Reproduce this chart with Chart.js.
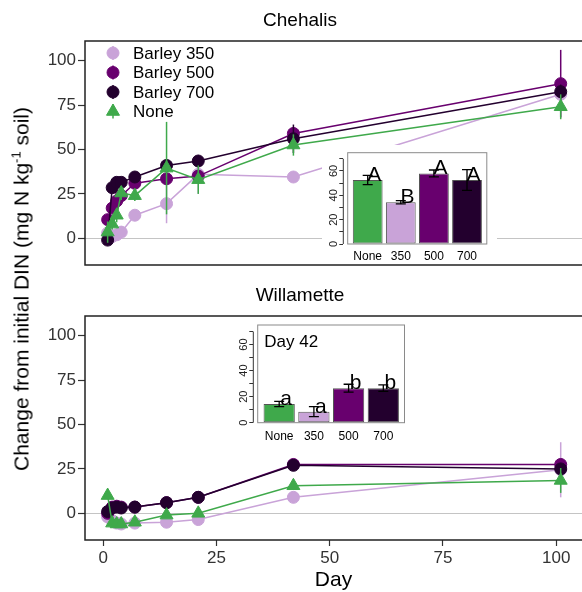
<!DOCTYPE html>
<html>
<head>
<meta charset="utf-8">
<script src="https://cdn.jsdelivr.net/npm/chart.js@4/dist/chart.umd.min.js"></script>
<style>
  body { margin: 0; background: #fff; font-family: "Liberation Sans", Arial, sans-serif; }
  #wrap { position: relative; width: 582px; height: 592px; overflow: hidden; }
  canvas { position: absolute; }
  .inset { background: #fff; }
  #ytitle {
    position: absolute; left: 23px; top: 289px;
    transform: translate(-50%, -50%) rotate(-90deg);
    white-space: nowrap; font-size: 21px; line-height: 24px; color: #000;
  }
  #ytitle span { font-size: 13px; position: relative; top: -8px; }
</style>
</head>
<body>
<div id="wrap">
  <canvas id="chehalis" width="582" height="272" style="left:0;top:0"></canvas>
  <canvas id="willamette" width="582" height="320" style="left:0;top:272px"></canvas>
  <canvas id="insetTop" class="inset" width="175" height="119" style="left:322px;top:145px"></canvas>
  <canvas id="insetBottom" class="inset" width="182" height="126" style="left:230px;top:318px"></canvas>
  <div id="ytitle">Change from initial DIN (mg N kg<span>-1</span> soil)</div>
</div>
<script>
const FONT = '"Liberation Sans", Arial, Helvetica, sans-serif';
Chart.defaults.font.family = FONT;
Chart.defaults.color = '#333';

// sampling days and series
const days = [1, 2, 3, 4, 7, 14, 21, 42, 101];
const seriesNames = ['Barley 350', 'Barley 500', 'Barley 700', 'None'];
const seriesColors = ['#c9a3d8', '#68006e', '#23002e', '#3fa94b'];
const seriesShapes = ['circle', 'circle', 'circle', 'triangle'];
const seriesSizes = [6, 6, 6, 7.5];
const xTicks = [0, 25, 50, 75, 100];
const yTicks = [0, 25, 50, 75, 100];

// Chehalis (mean and +/- error)
const chehalis350 = [3, 1, 2, 3.5, 13, 19.5, 36, 34.5, 81];
const chehalis500 = [10.5, 17, 21, 24, 31, 33.5, 35, 59, 87];
const chehalis700 = [-1, 28.5, 31.5, 31.5, 34.5, 41, 43.5, 56, 82.5];
const chehalisNone = [3.5, 8, 13, 25.5, 24, 39.5, 33, 52.5, 74];
const chehalis350Err = [1.5, 1, 1, 1.5, 2, 11, 11, 2, 5];
const chehalis500Err = [2, 2, 2, 2, 2, 2, 3, 3, 19];
const chehalis700Err = [2, 2, 2, 2, 2, 2, 3, 8, 4];
const chehalisNoneErr = [6, 3, 4, 4, 3, 26, 8, 6, 7];

// Willamette
const willamette350 = [-2, -4, -5.5, -6, -5.5, -5, -3.5, 9, 24.5];
const willamette500 = [0, 3.5, 4, 3.5, 3.5, 6, 9, 27.5, 27.5];
const willamette700 = [1, 3, 3.5, 3, 3.5, 6, 9, 27, 25];
const willametteNone = [10, -5.5, -6, -6, -5, -1, 0, 15.5, 18.5];
const willamette350Err = [1, 1, 1, 1, 1, 1, 1, 2, 15.5];
const willamette500Err = [1, 1, 1, 1, 1, 1, 1, 2, 3];
const willamette700Err = [1, 1, 1, 1, 1, 1, 1, 2, 2];
const willametteNoneErr = [2, 1, 1, 1, 1, 1, 1, 1, 7];

// day 42 insets
const insetGroups = ['None', '350', '500', '700'];
const insetColors = ['#3fa94b', '#c9a3d8', '#68006e', '#23002e'];
const insetTicks = [0, 10, 20, 30, 40, 50, 60, 70];
const chehalisDay42 = [52.6, 34.3, 58, 52.6];
const chehalisDay42Err = [3.8, 1.4, 2.8, 8.5];
const chehalisLetters = ['A', 'B', 'A', 'A'];
const willametteDay42 = [14.4, 8.5, 26.5, 26.5];
const willametteDay42Err = [2, 3.9, 3, 2.5];
const willametteLetters = ['a', 'a', 'b', 'b'];

// keep chart.js from padding the plot for edge labels
function noPad(s) {
  s.paddingLeft = 0; s.paddingRight = 0; s.paddingTop = 0; s.paddingBottom = 0;
}

// vertical error bar under each series' points
const pointErrors = {
  id: 'pointErrors',
  beforeDatasetDraw(chart, args) {
    const ds = chart.data.datasets[args.index];
    if (!ds.err) return;
    const { ctx, scales: { x, y } } = chart;
    ctx.save();
    ctx.strokeStyle = ds.borderColor;
    ctx.lineWidth = 1.5;
    ds.data.forEach((p, j) => {
      const e = ds.err[j];
      const px = x.getPixelForValue(p.x);
      ctx.beginPath();
      ctx.moveTo(px, y.getPixelForValue(p.y - e));
      ctx.lineTo(px, y.getPixelForValue(p.y + e));
      ctx.stroke();
    });
    ctx.restore();
  }
};

const panelFrame = {
  id: 'panelFrame',
  beforeDatasetsDraw(chart) {
    const { ctx, chartArea: a } = chart;
    ctx.save();
    ctx.strokeStyle = '#222';
    ctx.lineWidth = 1.5;
    ctx.beginPath();
    ctx.moveTo(a.right, a.top);
    ctx.lineTo(a.left, a.top);
    ctx.lineTo(a.left, a.bottom);
    ctx.lineTo(a.right, a.bottom);
    ctx.stroke();
    ctx.restore();
  }
};

const keyLegend = {
  id: 'keyLegend',
  afterDatasetsDraw(chart) {
    const { ctx, chartArea: a } = chart;
    ctx.save();
    seriesNames.forEach((name, i) => {
      const cx = a.left + 28, cy = a.top + 12 + i * 19.5;
      ctx.strokeStyle = seriesColors[i];
      ctx.fillStyle = seriesColors[i];
      ctx.lineWidth = 1.5;
      ctx.beginPath();
      ctx.moveTo(cx, cy - 7);
      ctx.lineTo(cx, cy + 7);
      ctx.stroke();
      ctx.lineWidth = 1;
      Chart.helpers.drawPoint(ctx, { pointStyle: seriesShapes[i], radius: seriesSizes[i], rotation: 0, borderWidth: 1 }, cx, cy);
      ctx.fillStyle = '#000';
      ctx.font = '17px ' + FONT;
      ctx.textBaseline = 'middle';
      ctx.textAlign = 'left';
      ctx.fillText(name, a.left + 48, cy + 1);
    });
    ctx.restore();
  }
};

function lineDatasets(values, errs) {
  return seriesNames.map((name, i) => ({
    label: name,
    data: days.map((d, j) => ({ x: d, y: values[i][j] })),
    err: errs[i],
    borderColor: seriesColors[i],
    backgroundColor: seriesColors[i],
    pointBackgroundColor: seriesColors[i],
    pointBorderColor: seriesColors[i],
    borderWidth: 1.5,
    pointBorderWidth: 1,
    pointStyle: seriesShapes[i],
    pointRadius: seriesSizes[i],
    tension: 0,
    order: seriesNames.length - i
  }));
}

function panelChart(id, title, titlePad, datasets, showX, plugins) {
  return new Chart(document.getElementById(id), {
    type: 'line',
    data: { datasets },
    plugins,
    options: {
      responsive: false,
      animation: false,
      events: [],
      devicePixelRatio: 1,
      layout: { autoPadding: false, padding: { left: 18, right: 0, top: 0, bottom: 0 } },
      plugins: {
        legend: { display: false },
        tooltip: { enabled: false },
        title: {
          display: true, text: title, color: '#000',
          font: { size: 19, weight: 'normal' }, padding: titlePad
        }
      },
      scales: {
        x: {
          type: 'linear', min: -4, max: 105.7,
          afterBuildTicks: s => { s.ticks = xTicks.map(v => ({ value: v })); },
          afterFit: s => { s.height = showX ? 52 : 7; noPad(s); },
          border: { display: false },
          grid: { display: showX, drawOnChartArea: false, tickColor: '#333', tickLength: 6, tickWidth: 1.2 },
          ticks: { display: showX, color: '#333', padding: 2, autoSkip: false, maxRotation: 0, font: { size: 17 } },
          title: { display: showX, text: 'Day', color: '#000', font: { size: 21 }, padding: { top: 0, bottom: -1 } }
        },
        y: {
          min: -15, max: 111,
          afterBuildTicks: s => { s.ticks = yTicks.map(v => ({ value: v })); },
          afterFit: s => { s.width = 67; noPad(s); },
          border: { display: false },
          grid: {
            color: c => (c.tick && c.tick.value === 0 ? '#c4c4c4' : 'rgba(0,0,0,0)'),
            lineWidth: 1, tickColor: '#333', tickLength: 7, tickWidth: 1.2
          },
          ticks: { color: '#333', padding: 2, autoSkip: false, font: { size: 17 } }
        }
      }
    }
  });
}

panelChart('chehalis', 'Chehalis', { top: 9.6, bottom: 8.6 },
  lineDatasets([chehalis350, chehalis500, chehalis700, chehalisNone],
    [chehalis350Err, chehalis500Err, chehalis700Err, chehalisNoneErr]),
  false, [panelFrame, pointErrors, keyLegend]);

panelChart('willamette', 'Willamette', { top: 12.6, bottom: 8.6 },
  lineDatasets([willamette350, willamette500, willamette700, willametteNone],
    [willamette350Err, willamette500Err, willamette700Err, willametteNoneErr]),
  true, [panelFrame, pointErrors]);

// inset bar charts
const insetDecor = {
  id: 'insetDecor',
  beforeDatasetsDraw(chart, args, o) {
    const { ctx, chartArea: a, scales: { x, y } } = chart;
    ctx.save();
    ctx.strokeStyle = '#8a8a8a';
    ctx.lineWidth = 1;
    const bl = x.getPixelForValue(o.boxStart);
    ctx.strokeRect(bl, a.top, a.right - bl - 0.5, a.bottom - a.top);
    ctx.strokeStyle = '#333';
    ctx.beginPath();
    ctx.moveTo(a.left, y.getPixelForValue(0));
    ctx.lineTo(a.left, y.getPixelForValue(70));
    ctx.stroke();
    ctx.restore();
  },
  afterDatasetsDraw(chart, args, o) {
    const { ctx, chartArea: a, scales: { x, y } } = chart;
    const ds = chart.data.datasets[0];
    ctx.save();
    ctx.strokeStyle = '#000';
    ctx.lineWidth = 1.3;
    ds.data.forEach((p, i) => {
      const px = x.getPixelForValue(p.x);
      const y1 = y.getPixelForValue(p.y - ds.err[i]);
      const y2 = y.getPixelForValue(p.y + ds.err[i]);
      ctx.beginPath();
      ctx.moveTo(px, y1); ctx.lineTo(px, y2);
      ctx.moveTo(px - 5, y1); ctx.lineTo(px + 5, y1);
      ctx.moveTo(px - 5, y2); ctx.lineTo(px + 5, y2);
      ctx.stroke();
    });
    ctx.fillStyle = '#000';
    ctx.font = '21px ' + FONT;
    ctx.textAlign = 'center';
    ctx.textBaseline = 'alphabetic';
    ds.data.forEach((p, i) => {
      ctx.fillText(ds.letters[i], x.getPixelForValue(p.x + 0.2), y.getPixelForValue(p.y) + 1);
    });
    if (o.note) {
      ctx.font = '17px ' + FONT;
      ctx.textAlign = 'left';
      ctx.fillText(o.note, x.getPixelForValue(o.boxStart) + 6.6, a.top + 21.7);
    }
    ctx.restore();
  }
};

function insetChart(id, values, errs, letters, geo) {
  return new Chart(document.getElementById(id), {
    type: 'bar',
    data: {
      datasets: [{
        data: insetGroups.map((g, i) => ({ x: i + 1, y: values[i] })),
        err: errs,
        letters,
        backgroundColor: insetColors,
        borderColor: '#555',
        borderWidth: 1,
        borderSkipped: false,
        categoryPercentage: 1,
        barPercentage: 0.9
      }]
    },
    plugins: [insetDecor],
    options: {
      responsive: false,
      animation: false,
      events: [],
      devicePixelRatio: 1,
      layout: { autoPadding: false, padding: { left: 0, right: geo.padRight, top: geo.padTop, bottom: 0 } },
      plugins: {
        legend: { display: false },
        tooltip: { enabled: false },
        insetDecor: { boxStart: geo.boxStart, note: geo.note }
      },
      scales: {
        x: {
          type: 'linear', min: geo.xMin, max: geo.xMax, offset: false,
          afterBuildTicks: s => { s.ticks = insetGroups.map((g, i) => ({ value: i + 1 })); },
          afterFit: s => { s.height = geo.xHeight; noPad(s); },
          border: { display: false },
          grid: { display: false, offset: false },
          ticks: {
            color: '#000', padding: geo.labelPad, autoSkip: false, maxRotation: 0,
            font: { size: 12 }, callback: (v, i) => insetGroups[i]
          }
        },
        y: {
          min: 0, max: 75,
          afterBuildTicks: s => { s.ticks = insetTicks.map(v => ({ value: v })); },
          afterFit: s => { s.width = geo.yWidth; noPad(s); },
          border: { display: false },
          grid: { drawOnChartArea: false, tickColor: '#333', tickLength: 4, tickWidth: 1 },
          ticks: {
            color: '#222', padding: -1, autoSkip: false, minRotation: 90, maxRotation: 90,
            crossAlign: 'center', font: { size: 11 },
            callback: v => (v % 20 === 0 ? String(v) : '')
          }
        }
      }
    }
  });
}

insetChart('insetTop', chehalisDay42, chehalisDay42Err, chehalisLetters,
  { padRight: 9.7, padTop: 7.7, xMin: 0.263, xMax: 4.613, boxStart: 0.396, xHeight: 20, labelPad: -3, yWidth: 21.3 });

insetChart('insetBottom', willametteDay42, willametteDay42Err, willametteLetters,
  { padRight: 7, padTop: 7, xMin: 0.254, xMax: 4.625, boxStart: 0.381, xHeight: 21.3, labelPad: -1.5, yWidth: 23.3, note: 'Day 42' });
</script>
</body>
</html>
